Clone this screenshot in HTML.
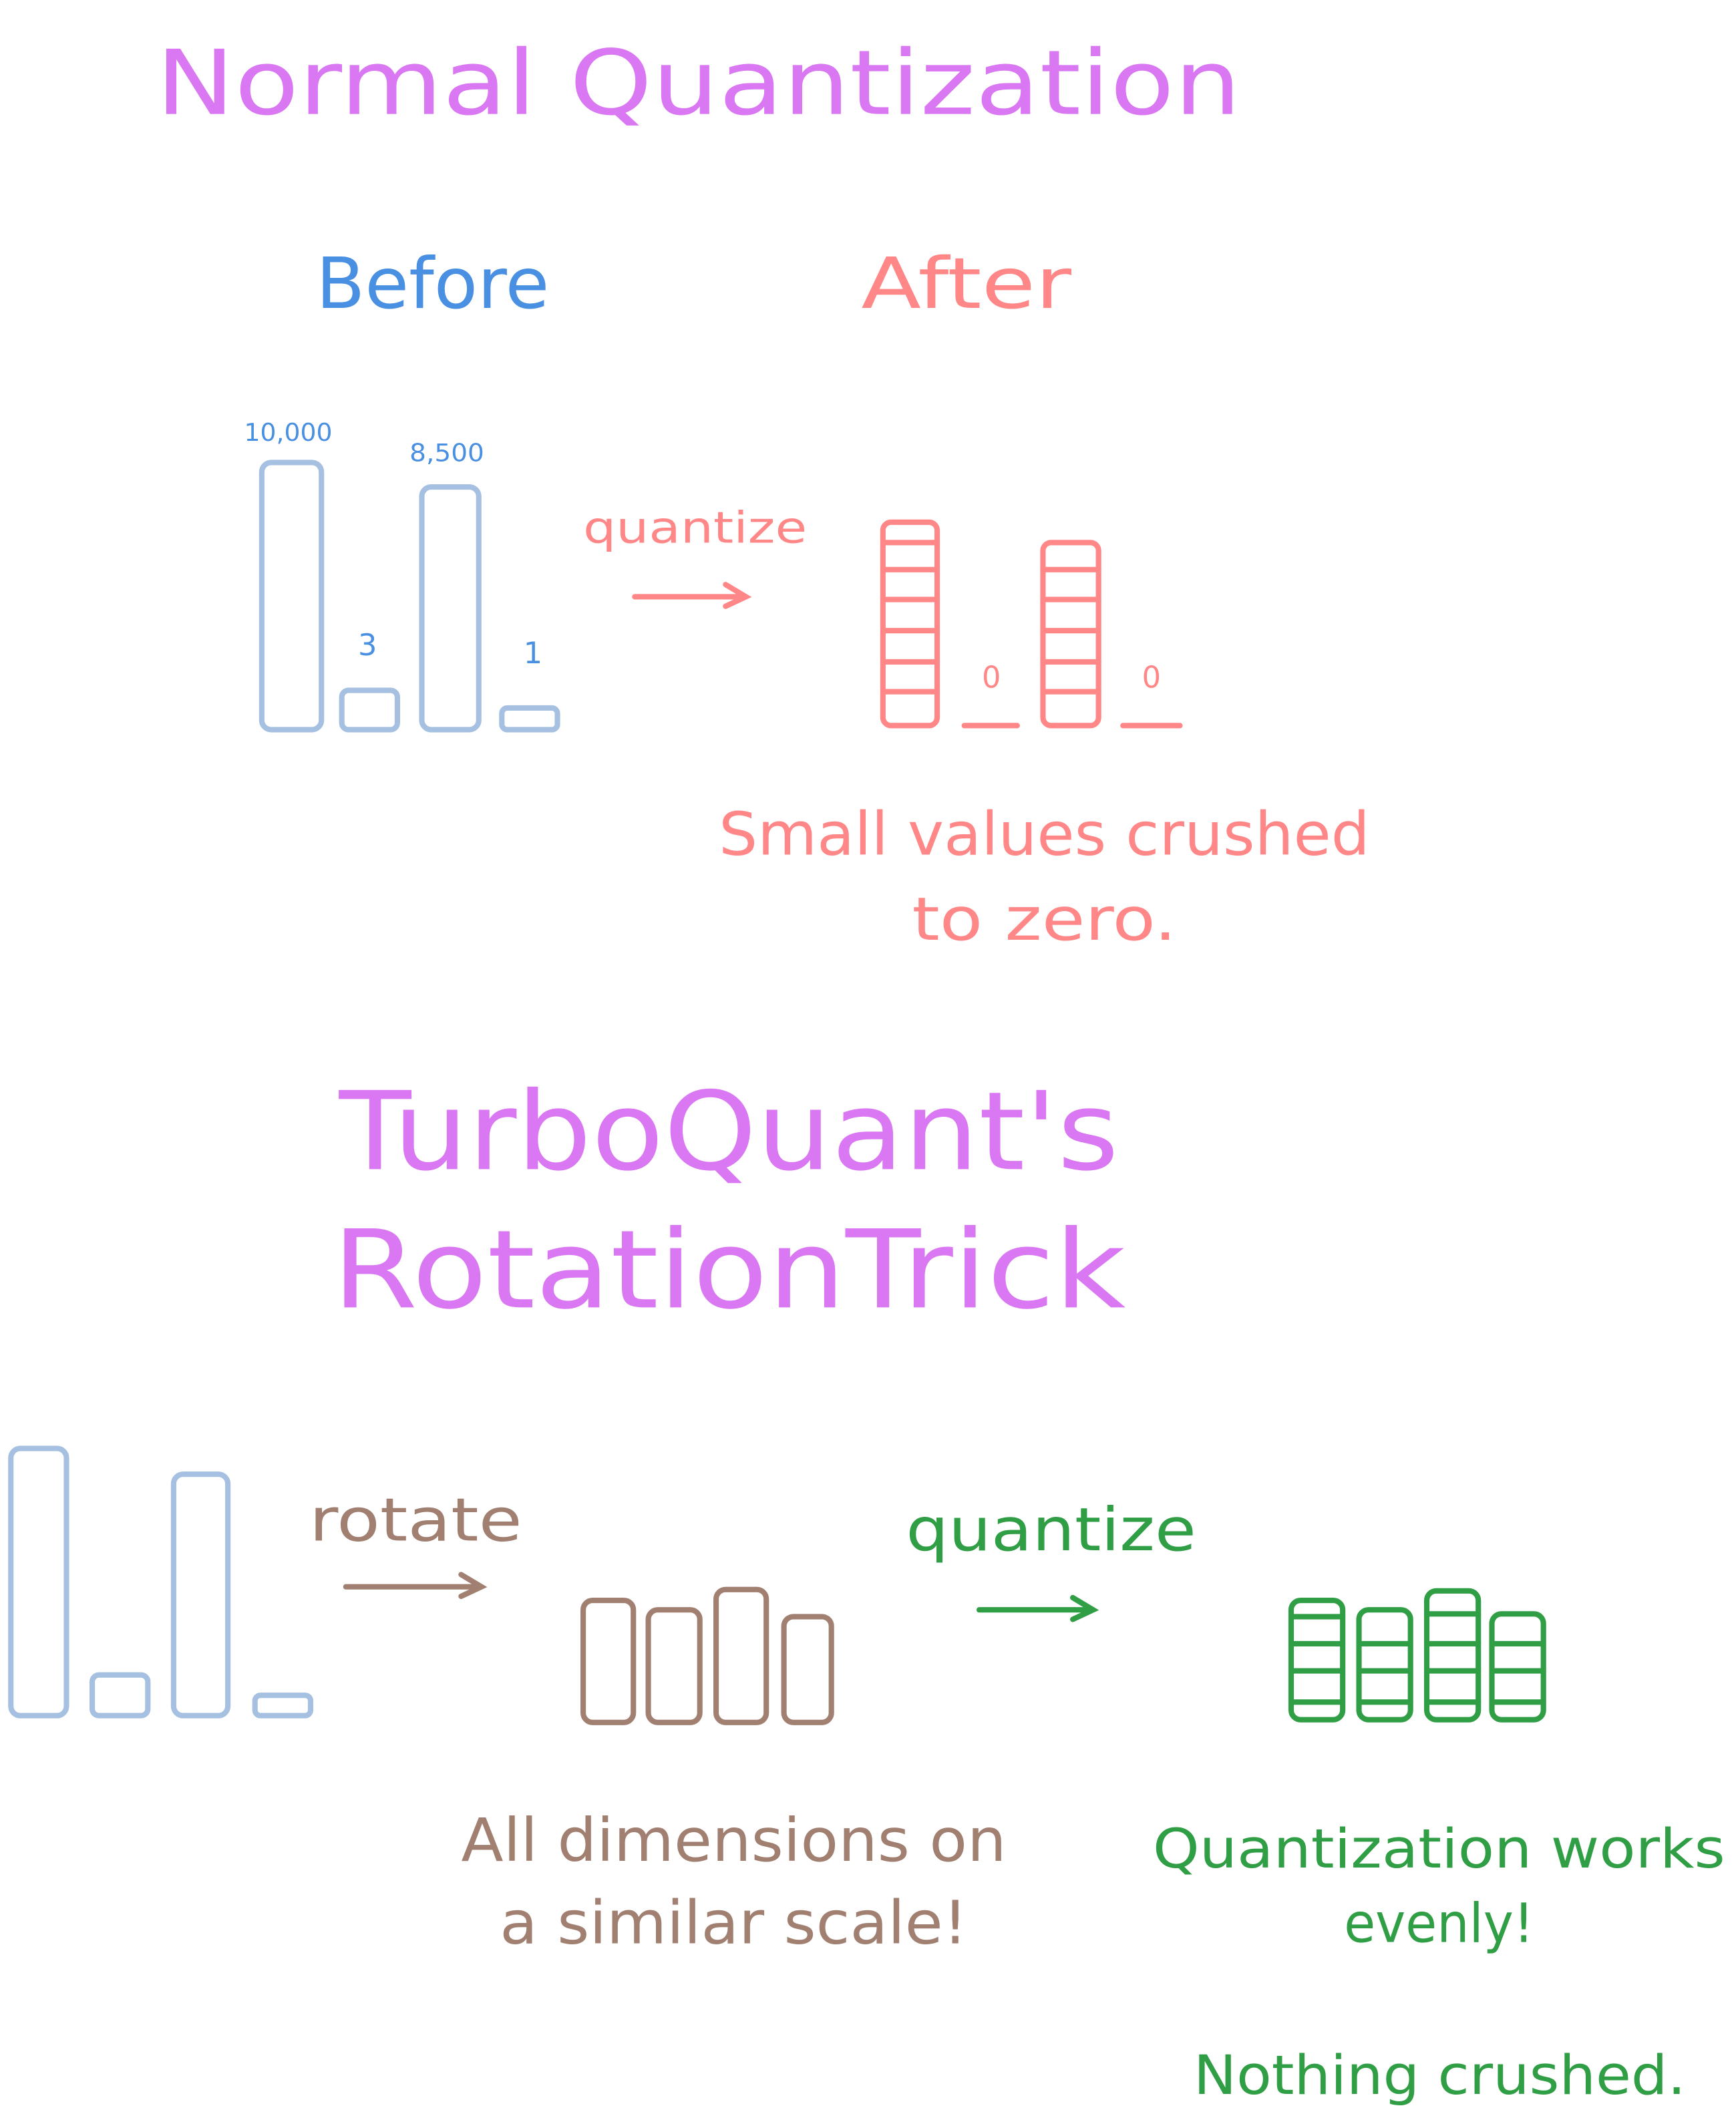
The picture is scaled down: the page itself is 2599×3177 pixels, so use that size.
<!DOCTYPE html>
<html><head><meta charset="utf-8"><style>
html,body{margin:0;padding:0;background:#fff;}
svg{display:block;}
text{font-family:"DejaVu Sans","Liberation Sans",sans-serif;}
</style></head><body>
<svg width="2599" height="3177" viewBox="0 0 1280 1564.6" xmlns="http://www.w3.org/2000/svg">
<rect width="1280" height="1564.6" fill="#fff"/>
<g fill="#da77f2">
<text x="115" y="84" font-size="66" textLength="800" lengthAdjust="spacingAndGlyphs">Normal Quantization</text>
<text x="250" y="862" font-size="80" textLength="575" lengthAdjust="spacingAndGlyphs">TurboQuant's</text>
<text x="245" y="964" font-size="80" textLength="585" lengthAdjust="spacingAndGlyphs">RotationTrick</text>
</g>
<text x="233" y="227" font-size="52" fill="#4a90e2" textLength="172" lengthAdjust="spacingAndGlyphs">Before</text>
<text x="635" y="227" font-size="52" fill="#ff8787" textLength="155" lengthAdjust="spacingAndGlyphs">After</text>
<g fill="#4a90e2" font-size="18">
<text x="180" y="325" textLength="65" lengthAdjust="spacingAndGlyphs">10,000</text>
<text x="302" y="340" textLength="55" lengthAdjust="spacingAndGlyphs">8,500</text>
<text x="264" y="483" font-size="22">3</text>
<text x="386" y="489" font-size="22">1</text>
</g>
<g fill="none" stroke="#a5c0e0" stroke-width="4" stroke-linejoin="round">
<rect x="193" y="341" width="44" height="197" rx="7"/>
<rect x="252" y="509" width="41" height="29" rx="5"/>
<rect x="311" y="359" width="42" height="179" rx="7"/>
<rect x="370" y="522" width="41" height="16" rx="4"/>
<rect x="8" y="1068" width="41" height="197" rx="7"/>
<rect x="68" y="1235" width="41" height="30" rx="5"/>
<rect x="128" y="1087" width="40" height="178" rx="7"/>
<rect x="188" y="1250" width="41" height="15" rx="4"/>
</g>
<text x="430" y="400" font-size="32" fill="#ff8787" textLength="165" lengthAdjust="spacingAndGlyphs">quantize</text>
<g stroke="#ff8787" stroke-width="4" fill="none" stroke-linecap="round">
<path d="M468 440 L550 440 M535 431 L550 440 L535 447"/>
<rect x="651" y="385" width="40" height="150" rx="6"/>
<rect x="769" y="400" width="41" height="135" rx="6"/>
<path d="M651 400H691 M651 420H691 M651 442H691 M651 465H691 M651 488H691 M651 510H691"/>
<path d="M769 420H810 M769 442H810 M769 465H810 M769 488H810 M769 510H810"/>
<path d="M711 535H750 M828 535H870"/>
</g>
<g fill="#ff8787">
<text x="724" y="507" font-size="22">0</text>
<text x="842" y="507" font-size="22">0</text>
<text x="770" y="630" font-size="44" text-anchor="middle" textLength="480" lengthAdjust="spacingAndGlyphs">Small values crushed</text>
<text x="770" y="693" font-size="44" text-anchor="middle" textLength="195" lengthAdjust="spacingAndGlyphs">to zero.</text>
</g>
<text x="228" y="1136" font-size="44" fill="#a18072" textLength="157" lengthAdjust="spacingAndGlyphs">rotate</text>
<g stroke="#a18072" stroke-width="4" fill="none" stroke-linecap="round">
<path d="M255 1170 L355 1170 M340 1161 L355 1170 L340 1177"/>
<rect x="430" y="1180" width="37" height="90" rx="7"/>
<rect x="478" y="1187" width="38" height="83" rx="7"/>
<rect x="528" y="1172" width="37" height="98" rx="7"/>
<rect x="578" y="1192" width="35" height="78" rx="7"/>
</g>
<g fill="#a18072" font-size="44">
<text x="541" y="1372" text-anchor="middle" textLength="402" lengthAdjust="spacingAndGlyphs">All dimensions on</text>
<text x="541" y="1433" text-anchor="middle" textLength="345" lengthAdjust="spacingAndGlyphs">a similar scale!</text>
</g>
<text x="668" y="1143" font-size="44" fill="#2f9e44" textLength="214" lengthAdjust="spacingAndGlyphs">quantize</text>
<g stroke="#2f9e44" stroke-width="4" fill="none" stroke-linecap="round">
<path d="M722 1187 L806 1187 M791 1178 L806 1187 L791 1194"/>
<rect x="952" y="1180" width="38" height="88" rx="7"/>
<rect x="1002" y="1187" width="38" height="81" rx="7"/>
<rect x="1052" y="1173" width="38" height="95" rx="7"/>
<rect x="1100" y="1190" width="38" height="78" rx="7"/>
<path d="M952 1192H990 M952 1212H990 M952 1232H990 M952 1255H990"/>
<path d="M1002 1212H1040 M1002 1232H1040 M1002 1255H1040"/>
<path d="M1052 1190H1090 M1052 1212H1090 M1052 1232H1090 M1052 1255H1090"/>
<path d="M1100 1212H1138 M1100 1232H1138 M1100 1255H1138"/>
</g>
<g fill="#2f9e44" font-size="40">
<text x="850" y="1377" textLength="422" lengthAdjust="spacingAndGlyphs">Quantization works</text>
<text x="1061" y="1432" text-anchor="middle" textLength="140" lengthAdjust="spacingAndGlyphs">evenly!</text>
<text x="880" y="1544" textLength="363" lengthAdjust="spacingAndGlyphs">Nothing crushed.</text>
</g>
</svg>
</body></html>
